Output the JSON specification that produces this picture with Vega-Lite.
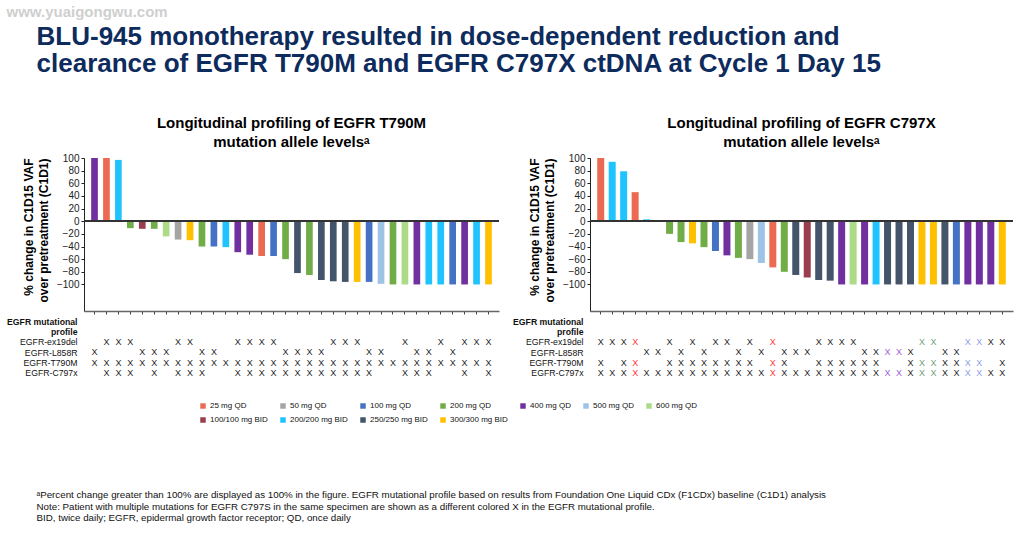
{
 "$schema": "https://vega.github.io/schema/vega-lite/v6.json",
 "background": "white",
 "padding": {"left": 6, "top": 4, "right": 5, "bottom": 5},
 "config": {
  "font": "Liberation Sans",
  "view": {"stroke": null},
  "axis": {"labelFont": "Liberation Sans", "titleFont": "Liberation Sans", "labelOverlap": false},
  "axisY": {"labelOverlap": false}
 },
 "datasets": {
  "lb": [
   {"p":1,"d":"400 mg QD","v":100},{"p":2,"d":"25 mg QD","v":100},{"p":3,"d":"200/200 mg BID","v":97},
   {"p":4,"d":"200 mg QD","v":-11},{"p":5,"d":"100/100 mg BID","v":-12},{"p":6,"d":"200 mg QD","v":-12},
   {"p":7,"d":"600 mg QD","v":-24},{"p":8,"d":"50 mg QD","v":-29},{"p":9,"d":"300/300 mg BID","v":-30},
   {"p":10,"d":"200 mg QD","v":-40},{"p":11,"d":"100 mg QD","v":-40},{"p":12,"d":"200/200 mg BID","v":-41},
   {"p":13,"d":"400 mg QD","v":-49},{"p":14,"d":"400 mg QD","v":-53},{"p":15,"d":"25 mg QD","v":-55},
   {"p":16,"d":"100 mg QD","v":-55},{"p":17,"d":"200 mg QD","v":-60},{"p":18,"d":"250/250 mg BID","v":-82},
   {"p":19,"d":"200 mg QD","v":-85},{"p":20,"d":"250/250 mg BID","v":-93},{"p":21,"d":"250/250 mg BID","v":-95},
   {"p":22,"d":"250/250 mg BID","v":-96},{"p":23,"d":"300/300 mg BID","v":-96},{"p":24,"d":"100 mg QD","v":-96},
   {"p":25,"d":"500 mg QD","v":-99},{"p":26,"d":"200 mg QD","v":-100},{"p":27,"d":"600 mg QD","v":-100},
   {"p":28,"d":"400 mg QD","v":-100},{"p":29,"d":"200/200 mg BID","v":-100},{"p":30,"d":"200/200 mg BID","v":-100},
   {"p":31,"d":"100 mg QD","v":-100},{"p":32,"d":"400 mg QD","v":-100},{"p":33,"d":"200/200 mg BID","v":-100},
   {"p":34,"d":"300/300 mg BID","v":-100}
  ],
  "rb": [
   {"p":1,"d":"25 mg QD","v":100},{"p":2,"d":"200/200 mg BID","v":94},{"p":3,"d":"200/200 mg BID","v":79},
   {"p":4,"d":"25 mg QD","v":46},{"p":5,"d":"200/200 mg BID","v":3},
   {"p":7,"d":"200 mg QD","v":-20},{"p":8,"d":"200 mg QD","v":-33},{"p":9,"d":"300/300 mg BID","v":-35},
   {"p":10,"d":"200 mg QD","v":-41},{"p":11,"d":"100 mg QD","v":-47},{"p":12,"d":"400 mg QD","v":-54},
   {"p":13,"d":"200 mg QD","v":-58},{"p":14,"d":"50 mg QD","v":-60},{"p":15,"d":"500 mg QD","v":-66},
   {"p":16,"d":"25 mg QD","v":-73},{"p":17,"d":"200 mg QD","v":-80},{"p":18,"d":"250/250 mg BID","v":-85},
   {"p":19,"d":"100/100 mg BID","v":-89},{"p":20,"d":"250/250 mg BID","v":-93},{"p":21,"d":"250/250 mg BID","v":-94},
   {"p":22,"d":"400 mg QD","v":-100},{"p":23,"d":"600 mg QD","v":-100},{"p":24,"d":"400 mg QD","v":-100},
   {"p":25,"d":"200/200 mg BID","v":-100},{"p":26,"d":"250/250 mg BID","v":-100},{"p":27,"d":"250/250 mg BID","v":-100},
   {"p":28,"d":"250/250 mg BID","v":-100},{"p":29,"d":"300/300 mg BID","v":-100},{"p":30,"d":"300/300 mg BID","v":-100},
   {"p":31,"d":"250/250 mg BID","v":-100},{"p":32,"d":"100 mg QD","v":-100},{"p":33,"d":"400 mg QD","v":-100},
   {"p":34,"d":"400 mg QD","v":-100},{"p":35,"d":"400 mg QD","v":-100},{"p":36,"d":"300/300 mg BID","v":-100}
  ],
  "lt": [
   {"p":2,"g":"EGFR-ex19del"},{"p":3,"g":"EGFR-ex19del"},{"p":4,"g":"EGFR-ex19del"},{"p":8,"g":"EGFR-ex19del"},{"p":9,"g":"EGFR-ex19del"},{"p":13,"g":"EGFR-ex19del"},{"p":14,"g":"EGFR-ex19del"},{"p":15,"g":"EGFR-ex19del"},{"p":16,"g":"EGFR-ex19del"},{"p":21,"g":"EGFR-ex19del"},{"p":22,"g":"EGFR-ex19del"},{"p":23,"g":"EGFR-ex19del"},{"p":27,"g":"EGFR-ex19del"},{"p":30,"g":"EGFR-ex19del"},{"p":32,"g":"EGFR-ex19del"},{"p":33,"g":"EGFR-ex19del"},{"p":34,"g":"EGFR-ex19del"},
   {"p":1,"g":"EGFR-L858R"},{"p":5,"g":"EGFR-L858R"},{"p":6,"g":"EGFR-L858R"},{"p":7,"g":"EGFR-L858R"},{"p":10,"g":"EGFR-L858R"},{"p":11,"g":"EGFR-L858R"},{"p":17,"g":"EGFR-L858R"},{"p":18,"g":"EGFR-L858R"},{"p":19,"g":"EGFR-L858R"},{"p":20,"g":"EGFR-L858R"},{"p":24,"g":"EGFR-L858R"},{"p":25,"g":"EGFR-L858R"},{"p":28,"g":"EGFR-L858R"},{"p":29,"g":"EGFR-L858R"},{"p":31,"g":"EGFR-L858R"},
   {"p":1,"g":"EGFR-T790M"},{"p":2,"g":"EGFR-T790M"},{"p":3,"g":"EGFR-T790M"},{"p":4,"g":"EGFR-T790M"},{"p":5,"g":"EGFR-T790M"},{"p":6,"g":"EGFR-T790M"},{"p":7,"g":"EGFR-T790M"},{"p":8,"g":"EGFR-T790M"},{"p":9,"g":"EGFR-T790M"},{"p":10,"g":"EGFR-T790M"},{"p":11,"g":"EGFR-T790M"},{"p":12,"g":"EGFR-T790M"},{"p":13,"g":"EGFR-T790M"},{"p":14,"g":"EGFR-T790M"},{"p":15,"g":"EGFR-T790M"},{"p":16,"g":"EGFR-T790M"},{"p":17,"g":"EGFR-T790M"},{"p":18,"g":"EGFR-T790M"},{"p":19,"g":"EGFR-T790M"},{"p":20,"g":"EGFR-T790M"},{"p":21,"g":"EGFR-T790M"},{"p":22,"g":"EGFR-T790M"},{"p":23,"g":"EGFR-T790M"},{"p":24,"g":"EGFR-T790M"},{"p":25,"g":"EGFR-T790M"},{"p":26,"g":"EGFR-T790M"},{"p":27,"g":"EGFR-T790M"},{"p":28,"g":"EGFR-T790M"},{"p":29,"g":"EGFR-T790M"},{"p":30,"g":"EGFR-T790M"},{"p":31,"g":"EGFR-T790M"},{"p":32,"g":"EGFR-T790M"},{"p":33,"g":"EGFR-T790M"},{"p":34,"g":"EGFR-T790M"},
   {"p":2,"g":"EGFR-C797x"},{"p":3,"g":"EGFR-C797x"},{"p":4,"g":"EGFR-C797x"},{"p":6,"g":"EGFR-C797x"},{"p":8,"g":"EGFR-C797x"},{"p":9,"g":"EGFR-C797x"},{"p":10,"g":"EGFR-C797x"},{"p":13,"g":"EGFR-C797x"},{"p":14,"g":"EGFR-C797x"},{"p":15,"g":"EGFR-C797x"},{"p":16,"g":"EGFR-C797x"},{"p":17,"g":"EGFR-C797x"},{"p":18,"g":"EGFR-C797x"},{"p":19,"g":"EGFR-C797x"},{"p":20,"g":"EGFR-C797x"},{"p":21,"g":"EGFR-C797x"},{"p":22,"g":"EGFR-C797x"},{"p":23,"g":"EGFR-C797x"},{"p":24,"g":"EGFR-C797x"},{"p":27,"g":"EGFR-C797x"},{"p":28,"g":"EGFR-C797x"},{"p":29,"g":"EGFR-C797x"},{"p":32,"g":"EGFR-C797x"},{"p":34,"g":"EGFR-C797x"}
  ],
  "rt": [
   {"p":1,"g":"EGFR-ex19del","m":"none"},{"p":2,"g":"EGFR-ex19del","m":"none"},{"p":3,"g":"EGFR-ex19del","m":"none"},{"p":4,"g":"EGFR-ex19del","m":"A"},{"p":7,"g":"EGFR-ex19del","m":"none"},{"p":9,"g":"EGFR-ex19del","m":"none"},{"p":11,"g":"EGFR-ex19del","m":"none"},{"p":12,"g":"EGFR-ex19del","m":"none"},{"p":14,"g":"EGFR-ex19del","m":"none"},{"p":16,"g":"EGFR-ex19del","m":"A"},{"p":20,"g":"EGFR-ex19del","m":"none"},{"p":21,"g":"EGFR-ex19del","m":"none"},{"p":22,"g":"EGFR-ex19del","m":"none"},{"p":23,"g":"EGFR-ex19del","m":"none"},{"p":29,"g":"EGFR-ex19del","m":"C"},{"p":30,"g":"EGFR-ex19del","m":"C"},{"p":33,"g":"EGFR-ex19del","m":"D"},{"p":34,"g":"EGFR-ex19del","m":"D"},{"p":35,"g":"EGFR-ex19del","m":"none"},{"p":36,"g":"EGFR-ex19del","m":"none"},
   {"p":5,"g":"EGFR-L858R","m":"none"},{"p":6,"g":"EGFR-L858R","m":"none"},{"p":8,"g":"EGFR-L858R","m":"none"},{"p":10,"g":"EGFR-L858R","m":"none"},{"p":13,"g":"EGFR-L858R","m":"none"},{"p":15,"g":"EGFR-L858R","m":"none"},{"p":17,"g":"EGFR-L858R","m":"none"},{"p":18,"g":"EGFR-L858R","m":"none"},{"p":19,"g":"EGFR-L858R","m":"none"},{"p":24,"g":"EGFR-L858R","m":"none"},{"p":25,"g":"EGFR-L858R","m":"none"},{"p":26,"g":"EGFR-L858R","m":"B"},{"p":27,"g":"EGFR-L858R","m":"B"},{"p":28,"g":"EGFR-L858R","m":"none"},{"p":31,"g":"EGFR-L858R","m":"none"},{"p":32,"g":"EGFR-L858R","m":"none"},
   {"p":1,"g":"EGFR-T790M","m":"none"},{"p":3,"g":"EGFR-T790M","m":"none"},{"p":4,"g":"EGFR-T790M","m":"A"},{"p":7,"g":"EGFR-T790M","m":"none"},{"p":8,"g":"EGFR-T790M","m":"none"},{"p":9,"g":"EGFR-T790M","m":"none"},{"p":10,"g":"EGFR-T790M","m":"none"},{"p":11,"g":"EGFR-T790M","m":"none"},{"p":12,"g":"EGFR-T790M","m":"none"},{"p":13,"g":"EGFR-T790M","m":"none"},{"p":14,"g":"EGFR-T790M","m":"none"},{"p":16,"g":"EGFR-T790M","m":"A"},{"p":17,"g":"EGFR-T790M","m":"none"},{"p":20,"g":"EGFR-T790M","m":"none"},{"p":21,"g":"EGFR-T790M","m":"none"},{"p":22,"g":"EGFR-T790M","m":"none"},{"p":23,"g":"EGFR-T790M","m":"none"},{"p":24,"g":"EGFR-T790M","m":"none"},{"p":25,"g":"EGFR-T790M","m":"none"},{"p":28,"g":"EGFR-T790M","m":"none"},{"p":29,"g":"EGFR-T790M","m":"C"},{"p":30,"g":"EGFR-T790M","m":"C"},{"p":31,"g":"EGFR-T790M","m":"none"},{"p":32,"g":"EGFR-T790M","m":"none"},{"p":33,"g":"EGFR-T790M","m":"D"},{"p":34,"g":"EGFR-T790M","m":"D"},{"p":36,"g":"EGFR-T790M","m":"none"},
   {"p":1,"g":"EGFR-C797x","m":"none"},{"p":2,"g":"EGFR-C797x","m":"none"},{"p":3,"g":"EGFR-C797x","m":"none"},{"p":4,"g":"EGFR-C797x","m":"A"},{"p":5,"g":"EGFR-C797x","m":"none"},{"p":6,"g":"EGFR-C797x","m":"none"},{"p":7,"g":"EGFR-C797x","m":"none"},{"p":8,"g":"EGFR-C797x","m":"none"},{"p":9,"g":"EGFR-C797x","m":"none"},{"p":10,"g":"EGFR-C797x","m":"none"},{"p":11,"g":"EGFR-C797x","m":"none"},{"p":12,"g":"EGFR-C797x","m":"none"},{"p":13,"g":"EGFR-C797x","m":"none"},{"p":14,"g":"EGFR-C797x","m":"none"},{"p":15,"g":"EGFR-C797x","m":"none"},{"p":16,"g":"EGFR-C797x","m":"A"},{"p":17,"g":"EGFR-C797x","m":"none"},{"p":18,"g":"EGFR-C797x","m":"none"},{"p":19,"g":"EGFR-C797x","m":"none"},{"p":20,"g":"EGFR-C797x","m":"none"},{"p":21,"g":"EGFR-C797x","m":"none"},{"p":22,"g":"EGFR-C797x","m":"none"},{"p":23,"g":"EGFR-C797x","m":"none"},{"p":24,"g":"EGFR-C797x","m":"none"},{"p":25,"g":"EGFR-C797x","m":"none"},{"p":26,"g":"EGFR-C797x","m":"B"},{"p":27,"g":"EGFR-C797x","m":"B"},{"p":28,"g":"EGFR-C797x","m":"none"},{"p":29,"g":"EGFR-C797x","m":"C"},{"p":30,"g":"EGFR-C797x","m":"C"},{"p":31,"g":"EGFR-C797x","m":"none"},{"p":32,"g":"EGFR-C797x","m":"none"},{"p":33,"g":"EGFR-C797x","m":"D"},{"p":34,"g":"EGFR-C797x","m":"D"},{"p":35,"g":"EGFR-C797x","m":"none"},{"p":36,"g":"EGFR-C797x","m":"none"}
  ]
 },
 "title": {"text": "www.yuaigongwu.com", "anchor": "start", "fontSize": 15, "fontWeight": "bold", "color": "#cfcfcf", "offset": 4, "dx": 0},
 "vconcat": [
  {
   "title": {"text": ["ᵃPercent change greater than 100% are displayed as 100% in the figure. EGFR mutational profile based on results from Foundation One Liquid CDx (F1CDx) baseline (C1D1) analysis", "Note: Patient with multiple mutations for EGFR C797S in the same specimen are shown as a different colored X in the EGFR mutational profile.", "BID, twice daily; EGFR, epidermal growth factor receptor; QD, once daily"], "orient": "bottom", "anchor": "start", "fontSize": 9.75, "fontWeight": "normal", "color": "#111111", "lineHeight": 11.7, "offset": 112, "dx": 30},
   "vconcat": [
    {
     "title": {"text": ["BLU-945 monotherapy resulted in dose-dependent reduction and", "clearance of EGFR T790M and EGFR C797X ctDNA at Cycle 1 Day 15"], "anchor": "start", "fontSize": 26, "fontWeight": "bold", "color": "#0D2B5C", "lineHeight": 27.5, "offset": 39, "dx": 30},
     "spacing": 12,
     "hconcat": [
      {
       "spacing": 1,
       "vconcat": [
        {
         "width": 415, "height": 153,
         "title": {"text": ["Longitudinal profiling of EGFR T790M", "mutation allele levelsᵃ"], "frame": "group", "fontSize": 15, "fontWeight": "bold", "lineHeight": 19, "offset": 3, "color": "#000000"},
         "data": {"name": "lb"},
         "encoding": {
          "y": {"field": "v", "type": "quantitative", "scale": {"domain": [-142, 100], "nice": false}, "axis": {"values": [-100,-80,-60,-40,-20,0,20,40,60,80,100], "labelOverlap": false, "title": ["% change in C1D15 VAF", "over pretreatment (C1D1)"], "titleAnchor": "end", "titleFontSize": 12, "titleFontWeight": "bold", "titleColor": "#000000", "titleLineHeight": 15, "titlePadding": 6, "labelFontSize": 10, "labelColor": "#222222", "tickSize": 3, "labelPadding": 2, "grid": false, "domainColor": "#222222", "tickColor": "#222222"}}
         },
         "layer": [
          {
           "mark": {"type": "bar"},
           "encoding": {
            "x": {"field": "p", "type": "ordinal", "scale": {"domain": [1,2,3,4,5,6,7,8,9,10,11,12,13,14,15,16,17,18,19,20,21,22,23,24,25,26,27,28,29,30,31,32,33,34], "paddingInner": 0.44, "paddingOuter": 0.6}, "axis": {"labels": false, "title": null, "tickSize": 3, "domainColor": "#666666", "domainWidth": 1.5, "tickColor": "#444444"}},
            "color": {"field": "d", "type": "nominal", "scale": {"domain": ["25 mg QD","50 mg QD","100 mg QD","200 mg QD","400 mg QD","500 mg QD","600 mg QD","100/100 mg BID","200/200 mg BID","250/250 mg BID","300/300 mg BID"], "range": ["#EC6A52","#A5A5A5","#4472C4","#70AD47","#7030A0","#9DC3E6","#ACDB88","#993D4F","#1FC3FE","#44546A","#FFC000"]}, "legend": {"title": null, "orient": "none", "legendX": 115, "legendY": 244, "direction": "horizontal", "columns": 7, "symbolType": "square", "symbolSize": 30, "symbolStrokeWidth": 0, "labelFontSize": 8, "labelColor": "#111111", "columnPadding": 11, "rowPadding": 6, "labelOffset": 3, "gridAlign": "each"}}
           }
          },
          {"mark": {"type": "rule", "color": "#333333", "strokeWidth": 1.5}, "encoding": {"y": {"datum": 0}}}
         ]
        },
        {
         "width": 415, "height": 62,
         "data": {"name": "lt"},
         "mark": {"type": "text", "text": "X", "fontSize": 9, "color": "#222222"},
         "encoding": {
          "x": {"field": "p", "type": "ordinal", "scale": {"type": "band", "domain": [1,2,3,4,5,6,7,8,9,10,11,12,13,14,15,16,17,18,19,20,21,22,23,24,25,26,27,28,29,30,31,32,33,34], "paddingInner": 0.44, "paddingOuter": 0.6}, "axis": null},
          "y": {"field": "g", "type": "ordinal", "scale": {"type": "point", "padding": 0.5, "domain": ["EGFR mutational","profile","EGFR-ex19del","EGFR-L858R","EGFR-T790M","EGFR-C797x"]}, "axis": {"title": null, "domain": false, "ticks": false, "labelFontSize": 8.7, "labelColor": "#111111", "labelPadding": 7, "labelLimit": 200, "labelFontWeight": {"condition": {"test": "datum.value == 'EGFR mutational' || datum.value == 'profile'", "value": "bold"}, "value": "normal"}}}
         }
        }
       ]
      },
      {
       "spacing": 1,
       "vconcat": [
        {
         "width": 423, "height": 153,
         "title": {"text": ["Longitudinal profiling of EGFR C797X", "mutation allele levelsᵃ"], "frame": "group", "fontSize": 15, "fontWeight": "bold", "lineHeight": 19, "offset": 3, "color": "#000000"},
         "data": {"name": "rb"},
         "encoding": {
          "y": {"field": "v", "type": "quantitative", "scale": {"domain": [-142, 100], "nice": false}, "axis": {"values": [-100,-80,-60,-40,-20,0,20,40,60,80,100], "labelOverlap": false, "title": ["% change in C1D15 VAF", "over pretreatment (C1D1)"], "titleAnchor": "end", "titleFontSize": 12, "titleFontWeight": "bold", "titleColor": "#000000", "titleLineHeight": 15, "titlePadding": 6, "labelFontSize": 10, "labelColor": "#222222", "tickSize": 3, "labelPadding": 2, "grid": false, "domainColor": "#222222", "tickColor": "#222222"}}
         },
         "layer": [
          {
           "mark": {"type": "bar"},
           "encoding": {
            "x": {"field": "p", "type": "ordinal", "scale": {"domain": [1,2,3,4,5,6,7,8,9,10,11,12,13,14,15,16,17,18,19,20,21,22,23,24,25,26,27,28,29,30,31,32,33,34,35,36], "paddingInner": 0.39, "paddingOuter": 0.63}, "axis": {"labels": false, "title": null, "tickSize": 3, "domainColor": "#666666", "domainWidth": 1.5, "tickColor": "#444444"}},
            "color": {"field": "d", "type": "nominal", "scale": {"domain": ["25 mg QD","50 mg QD","100 mg QD","200 mg QD","400 mg QD","500 mg QD","600 mg QD","100/100 mg BID","200/200 mg BID","250/250 mg BID","300/300 mg BID"], "range": ["#EC6A52","#A5A5A5","#4472C4","#70AD47","#7030A0","#9DC3E6","#ACDB88","#993D4F","#1FC3FE","#44546A","#FFC000"]}, "legend": {"title": null, "orient": "none", "legendX": 115, "legendY": 244, "direction": "horizontal", "columns": 7, "symbolType": "square", "symbolSize": 30, "symbolStrokeWidth": 0, "labelFontSize": 8, "labelColor": "#111111", "columnPadding": 11, "rowPadding": 6, "labelOffset": 3, "gridAlign": "each"}}
           }
          },
          {"mark": {"type": "rule", "color": "#333333", "strokeWidth": 1.5}, "encoding": {"y": {"datum": 0}}}
         ]
        },
        {
         "width": 423, "height": 62,
         "data": {"name": "rt"},
         "mark": {"type": "text", "text": "X", "fontSize": 9},
         "encoding": {
          "x": {"field": "p", "type": "ordinal", "scale": {"type": "band", "domain": [1,2,3,4,5,6,7,8,9,10,11,12,13,14,15,16,17,18,19,20,21,22,23,24,25,26,27,28,29,30,31,32,33,34,35,36], "paddingInner": 0.39, "paddingOuter": 0.63}, "axis": null},
          "y": {"field": "g", "type": "ordinal", "scale": {"type": "point", "padding": 0.5, "domain": ["EGFR mutational","profile","EGFR-ex19del","EGFR-L858R","EGFR-T790M","EGFR-C797x"]}, "axis": {"title": null, "domain": false, "ticks": false, "labelFontSize": 8.7, "labelColor": "#111111", "labelPadding": 7, "labelLimit": 200, "labelFontWeight": {"condition": {"test": "datum.value == 'EGFR mutational' || datum.value == 'profile'", "value": "bold"}, "value": "normal"}}},
          "fill": {"field": "m", "type": "nominal", "scale": {"domain": ["none","A","B","C","D"], "range": ["#222222","#FF3333","#9B5CD6","#6D9E7A","#8C9CE8"]}, "legend": null}
         }
        }
       ]
      }
     ]
    }
   ]
  }
 ]
}
